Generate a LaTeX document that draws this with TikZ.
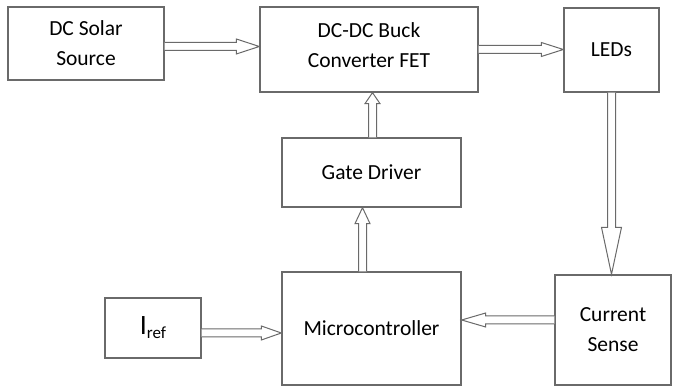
\documentclass[tikz,border=0pt]{standalone}
\usepackage{fontspec}
\setmainfont{Carlito}
\usepackage{xcolor}
\usetikzlibrary{calc, positioning}

\definecolor{edgegray}{HTML}{6A6A6A}

% hollow block arrow: head length, head half width, from, to
\newcommand{\fatarrow}[4]{%
    \draw [fat_arrow] let \p1=(#3), \p2=(#4), \n1={veclen(\x2-\x1,\y2-\y1)}, \n2={atan2(\y2-\y1,\x2-\x1)} in
        [shift={(\p1)}, rotate=\n2] (0pt,-4pt) -- (\n1-#1pt,-4pt) -- (\n1-#1pt,-#2pt) -- (\n1,0pt)
        -- (\n1-#1pt,#2pt) -- (\n1-#1pt,4pt) -- (0pt,4pt);}

\begin{document}
\begin{tikzpicture}[
    x=1pt, y=1pt,
    fat_arrow/.style={draw=edgegray, line width=1pt, line join=miter, fill=white},
    block_node/.style={rectangle, draw=edgegray, line width=1.3pt, fill=white, align=center, inner sep=0pt, font=\fontsize{21.5}{30}\selectfont}
]
    \useasboundingbox (0,0) rectangle (673,387);

    % =========================================================================
    % POWER PATH
    % =========================================================================
    \node [block_node, minimum width=156, minimum height=73] (solar) at (86, 343.5) {DC Solar\\Source};
    \node [block_node, minimum width=218, minimum height=85] (buck) at (369, 337.5) {DC-DC Buck\\Converter FET\\[-22pt]};
    \node [block_node, minimum width=95, minimum height=84] (leds) at (611.5, 337) {LEDs};

    \fatarrow{23}{7.5}{[yshift=-3pt]solar.east}{[yshift=-3pt]solar.east -| buck.west}
    \fatarrow{22}{7}{buck.east}{buck.east -| leds.west}

    % =========================================================================
    % CONTROL LOOP
    % =========================================================================
    \node [block_node, minimum width=179, minimum height=69] (gate) at (371.5, 214.5) {Gate Driver};
    \node [block_node, minimum width=179, minimum height=113] (micro) at (371.5, 58.5) {Microcontroller};
    \node [block_node, minimum width=96, minimum height=60] (iref) at (153, 59) {{\fontsize{28}{30}\selectfont I}\raisebox{-4pt}{\fontsize{17}{18}\selectfont ref}};
    \node [block_node, minimum width=116, minimum height=110] (sense) at (613, 57) {Current\\Sense};

    \fatarrow{11}{7.5}{[xshift=1pt]gate.north}{[xshift=1pt]gate.north |- buck.south}
    \fatarrow{16}{7.5}{[xshift=-9pt]micro.north}{[xshift=-9pt]micro.north |- gate.south}
    \fatarrow{20}{7}{[yshift=-5pt]iref.east}{[yshift=-5pt]iref.east -| micro.west}
    \fatarrow{24}{7}{[yshift=10pt]sense.west}{[yshift=10pt]sense.west -| micro.east}
    \fatarrow{47}{10}{leds.south}{leds.south |- sense.north}
\end{tikzpicture}
\end{document}
